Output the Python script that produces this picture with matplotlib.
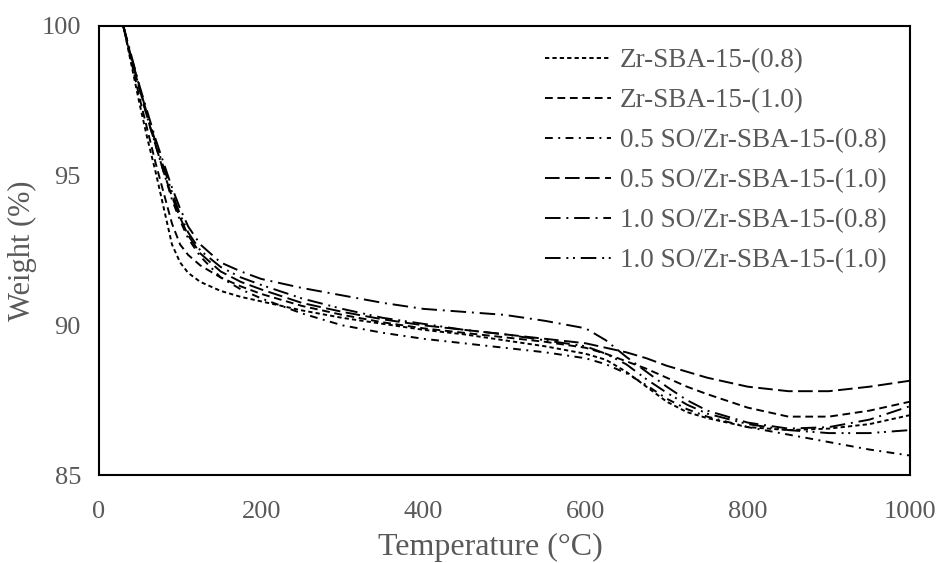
import matplotlib
matplotlib.use("Agg")
import matplotlib.pyplot as plt

temps = [30, 40, 50, 60, 70, 80, 90, 100, 110, 125, 150, 175, 200, 250, 300, 350, 400,
         450, 500, 550, 600, 625, 650, 675, 700, 725, 750, 800, 850, 900, 950, 1000]

zr_08 = [100, 98.7, 97.4, 96.2, 95.1, 93.9, 92.7, 92.1, 91.75, 91.45, 91.15, 90.95, 90.8,
         90.5, 90.25, 90.05, 89.85, 89.7, 89.5, 89.3, 89.05, 88.85, 88.45, 87.95, 87.45,
         87.1, 86.9, 86.6, 86.5, 86.55, 86.7, 87.0]
zr_10 = [100, 98.8, 97.6, 96.5, 95.4, 94.4, 93.4, 92.7, 92.35, 92.0, 91.6, 91.3, 91.05,
         90.65, 90.35, 90.1, 89.9, 89.75, 89.6, 89.45, 89.25, 89.05, 88.8, 88.55, 88.25,
         87.95, 87.7, 87.25, 86.95, 86.95, 87.15, 87.45]
so05_08 = [100, 98.9, 97.9, 96.9, 96.0, 95.1, 94.2, 93.5, 92.9, 92.3, 91.6, 91.2, 90.9,
           90.4, 90.0, 89.75, 89.55, 89.4, 89.25, 89.1, 88.9, 88.7, 88.4, 88.0, 87.55,
           87.2, 86.95, 86.6, 86.35, 86.1, 85.85, 85.65]
so05_10 = [100, 98.9, 97.9, 96.9, 96.0, 95.1, 94.3, 93.6, 93.0, 92.4, 91.8, 91.45, 91.2,
           90.75, 90.45, 90.2, 90.0, 89.85, 89.7, 89.55, 89.4, 89.25, 89.1, 88.9, 88.65,
           88.45, 88.25, 87.95, 87.8, 87.8, 87.95, 88.15]
so10_08 = [100, 99.0, 98.0, 97.1, 96.2, 95.4, 94.6, 93.9, 93.3, 92.7, 92.1, 91.8, 91.55,
           91.25, 91.0, 90.75, 90.55, 90.45, 90.35, 90.15, 89.9, 89.5, 88.95, 88.45, 87.95,
           87.5, 87.15, 86.75, 86.55, 86.6, 86.85, 87.3]
so10_10 = [100, 98.95, 97.95, 97.0, 96.1, 95.25, 94.45, 93.7, 93.1, 92.5, 91.95, 91.6, 91.35,
           90.9, 90.55, 90.25, 90.05, 89.85, 89.7, 89.5, 89.3, 89.05, 88.7, 88.2, 87.75,
           87.35, 87.05, 86.7, 86.5, 86.4, 86.4, 86.5]

labels = ["Zr-SBA-15-(0.8)", "Zr-SBA-15-(1.0)", "0.5 SO/Zr-SBA-15-(0.8)",
          "0.5 SO/Zr-SBA-15-(1.0)", "1.0 SO/Zr-SBA-15-(0.8)", "1.0 SO/Zr-SBA-15-(1.0)"]
series = [zr_08, zr_10, so05_08, so05_10, so10_08, so10_10]
dash_styles = [(2.2, 1.6), (4.0, 2.4), (4.0, 2.8, 1.0, 2.8), (7.5, 2.8),
               (8.0, 3.0, 1.0, 3.0), (8.0, 3.0, 1.0, 2.4, 1.0, 3.0)]

plt.rcParams['font.family'] = ['Liberation Serif', 'DejaVu Serif']
gray = '#595959'

fig = plt.figure(figsize=(9.39, 5.63), dpi=100)
ax = fig.add_axes([99/939, 1 - 475/563, (910-99)/939, (475-26)/563])

for vals, lab, ds in zip(series, labels, dash_styles):
    ax.plot(temps, vals, color='black', lw=1.4, dashes=ds, label=lab)

ax.set_xlim(0, 1000)
ax.set_ylim(85, 100)
ax.set_xticks([0, 200, 400, 600, 800, 1000])
ax.set_yticks([85, 90, 95, 100])
ax.tick_params(axis='both', length=0, labelsize=19, labelcolor=gray)
ax.tick_params(axis='x', pad=19)
ax.tick_params(axis='y', pad=13)
for s in ax.spines.values():
    s.set_linewidth(1.5)
    s.set_color('black')

ax.set_xlabel("Temperature (°C)", fontsize=23, color=gray)
ax.set_ylabel("Weight (%)", fontsize=22, color=gray)
ax.xaxis.set_label_coords(0.483, -0.13)
ax.yaxis.set_label_coords(-0.077, 0.5)

leg = ax.legend(loc='upper left', bbox_to_anchor=(0.55, 0.95), frameon=False,
                fontsize=19.5, handlelength=2.45, handletextpad=0.3, labelspacing=0.55,
                borderpad=0, borderaxespad=0)
for t in leg.get_texts():
    t.set_color(gray)

fig.savefig("out.png", dpi=100)
